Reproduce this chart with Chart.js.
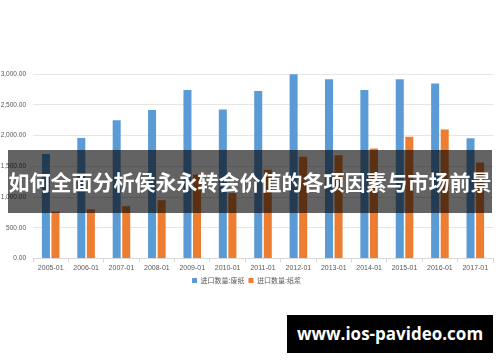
<!DOCTYPE html>
<html>
<head>
<meta charset="utf-8">
<script src="https://cdn.jsdelivr.net/npm/chart.js@4/dist/chart.umd.min.js"></script>
<style>
  html, body { margin: 0; padding: 0; background: #fff; }
  #wrap { position: relative; width: 500px; height: 362px; overflow: hidden; }
  #chart { position: absolute; left: 0; top: 0; }
  #banner {
    position: absolute; left: 8px; top: 150px; width: 484px; height: 63px;
    background: rgba(0,0,0,0.61); color: #fff;
    font-family: "Noto Sans CJK SC", sans-serif; font-weight: 700; font-size: 21px;
    line-height: 63px; text-align: center; white-space: nowrap; letter-spacing: 0;
  }
  #mark {
    position: absolute; left: 287px; top: 315px; width: 206px; height: 38px;
    background: #000; color: #fff;
    font-family: "Open Sans", sans-serif; font-weight: 700; font-size: 17px;
    line-height: 38px; text-align: center;
  }
</style>
</head>
<body>
<div id="wrap">
  <canvas id="chart" width="500" height="362"></canvas>
  <div id="banner">如何全面分析侯永永转会价值的各项因素与市场前景</div>
  <div id="mark">www.ios-pavideo.com</div>
</div>
<script>
// --- data ---
const months = ["2005-01", "2006-01", "2007-01", "2008-01", "2009-01", "2010-01", "2011-01",
                "2012-01", "2013-01", "2014-01", "2015-01", "2016-01", "2017-01"];
const wastePaper = [1700, 1960, 2250, 2415, 2740, 2425, 2725, 2995, 2915, 2740, 2915, 2845, 1955];
const pulp = [765, 800, 850, 950, 1365, 1065, 1445, 1655, 1680, 1790, 1980, 2100, 1560];
const yTicks = [0, 500, 1000, 1500, 2000, 2500, 3000];

const fmt = v => v.toLocaleString("en-US", { minimumFractionDigits: 2, maximumFractionDigits: 2 });

const ctx = document.getElementById("chart").getContext("2d");
new Chart(ctx, {
  type: "bar",
  data: {
    labels: months,
    datasets: [
      {
        label: "进口数量:废纸",
        data: wastePaper,
        backgroundColor: "#5b9bd5",
        categoryPercentage: 0.54,
        barPercentage: 0.84
      },
      {
        label: "进口数量:纸浆",
        data: pulp,
        backgroundColor: "#ed7d31",
        categoryPercentage: 0.54,
        barPercentage: 0.84
      }
    ]
  },
  options: {
    responsive: false,
    animation: false,
    layout: { padding: { top: 74, right: 7, left: 0, bottom: 68 } },
    plugins: {
      tooltip: { enabled: false },
      legend: {
        position: "bottom",
        labels: {
          boxWidth: 5, boxHeight: 5, padding: 4,
          color: "#595959",
          font: { family: "Noto Sans CJK SC", size: 7 }
        }
      }
    },
    scales: {
      x: {
        offset: true,
        grid: { display: true, drawOnChartArea: false, drawTicks: true, tickLength: 4, color: "#d9d9d9" },
        border: { color: "#d9d9d9" },
        ticks: { color: "#595959", font: { family: "Liberation Sans", size: 7 }, maxRotation: 0, padding: 1 }
      },
      y: {
        min: 0, max: 3000,
        afterBuildTicks: axis => { axis.ticks = yTicks.map(v => ({ value: v })); },
        afterFit: axis => { axis.width = 33; },
        grid: { color: "#e6e6e6", drawTicks: false },
        border: { display: false },
        ticks: {
          color: "#595959", padding: 7,
          font: { family: "Liberation Sans", size: 6.5 },
          callback: v => fmt(v)
        }
      }
    }
  }
});
</script>
</body>
</html>
